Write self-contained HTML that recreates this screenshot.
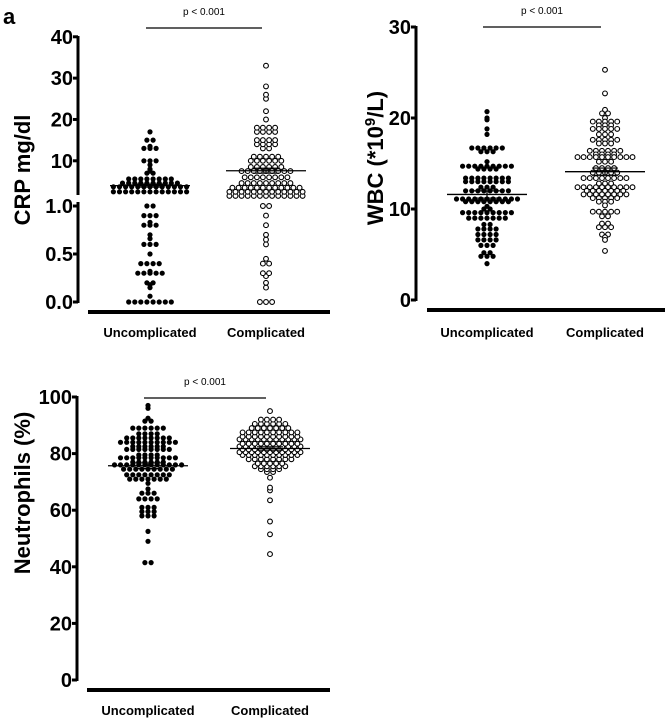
<!DOCTYPE html>
<html><head><meta charset="utf-8"><style>
html,body{margin:0;padding:0;background:#fff;}
svg{display:block;font-family:"Liberation Sans",Arial,sans-serif;}
</style></head><body>
<svg id="chart" width="667" height="720" viewBox="0 0 667 720">
<text x="3" y="24" font-size="22" font-weight="bold">a</text>
</svg>
<script>
// ---- DATA ----
const categories = ["Uncomplicated", "Complicated"];
const crpUncomplicated = [0,0,0,0,0,0,0,0,0.06,0.15,0.18,0.2,0.2,0.3,0.3,0.3,0.3,0.3,0.32,0.4,0.4,0.4,0.4,0.5,0.6,0.6,0.6,0.66,0.7,0.8,0.8,0.8,0.83,0.9,0.9,0.9,1.0,1.0,
 2.5,2.5,2.5,2.5,2.5,2.5,2.5,2.5,2.5,2.5,2.5,2.5,2.5,3.7,3.7,3.7,3.7,3.7,3.7,3.7,3.7,3.7,3.7,3.7,3.7,3.7,4.6,4.6,4.6,4.6,4.6,4.6,4.6,4.6,4.6,4.6,5.6,5.6,5.6,5.6,5.6,5.6,5.6,5.6,
 7,7,7.5,8,9,10,10,10,13,13,13,13.5,15,15,17];
const crpComplicated = [0,0,0,0.15,0.2,0.27,0.3,0.3,0.4,0.4,0.45,0.6,0.65,0.7,0.8,0.9,1.0,1.0,
 1.5,1.5,1.5,1.5,1.5,1.5,1.5,1.5,1.5,1.5,1.5,1.5,1.5,2.5,2.5,2.5,2.5,2.5,2.5,2.5,2.5,2.5,2.5,2.5,2.5,2.5,3.5,3.5,3.5,3.5,3.5,3.5,3.5,3.5,3.5,3.5,3.5,3.5,
 4.6,4.6,4.6,4.6,4.6,4.6,4.6,4.6,4.6,6,6,6,6,6,6,6,6,7.5,7.5,7.5,7.5,7.5,7.5,7.5,7.5,7.5,8.5,8.5,8.5,8.5,8.5,8.5,10,10,10,10,10,10,11,11,11,11,11,
 13,13,14,14,14,14,15,15,15,15,17,17,17,17,18,18,18,18,20,22,25,26,28,33];
const wbcUncomplicated = [20.7,20,19.8,18.8,18.2,16.7,16.7,16.7,16.7,16.7,16.7,16.3,16.3,16.3,15.2,14.7,14.7,14.7,14.7,14.7,14.7,14.7,14.7,14.7,14.4,14.4,14.4,14.4,
 13.4,13.4,13.4,13.4,13.4,13.4,13.4,13.4,13,13,13,13,13,13,13,13,12.4,12.4,12.4,12,12,12,12,12,12,12,12,11.1,11.1,11.1,11.1,11.1,11.1,11.1,11.1,11.1,11.1,11.1,
 10.8,10.8,10.8,10.8,10.8,10.8,10.8,10.8,10.3,10,10,9.6,9.6,9.6,9.6,9.6,9.6,9.6,9.6,9.6,9,9,9,9,9,9,9,8.3,8.3,7.8,7.8,7.8,7.8,7.2,7.2,7.2,7.2,6.6,6.6,6.6,6.6,6,6,6,5.2,5.2,4.8,4.8,4.8,4];
const wbcComplicated = [25.3,22.7,20.9,20.5,20.5,20,19.6,19.6,19.6,19.6,19.6,19.2,19.2,19.2,18.8,18.8,18.8,18.8,18.8,18.2,18.2,18.2,17.6,17.6,17.6,17.6,17.6,17.2,17.2,17.2,
 16.4,16.4,16.4,16.4,16.4,16.4,16,16,16,16,15.7,15.7,15.7,15.7,15.7,15.7,15.7,15.7,15.7,15.7,15.2,15.2,15.2,14.5,14.5,14.5,14.5,14,14,14,14,14,
 13.4,13.4,13.4,13.4,13.4,13.4,13.4,13.4,12.8,12.8,12.8,12.4,12.4,12.4,12.4,12.4,12.4,12.4,12.4,12.4,12.4,12,12,12,12,12,12,12,11.6,11.6,11.6,11.6,11.6,11.6,11.6,11.6,
 11.2,11.2,11.2,11.2,11.2,10.8,10.8,10.8,10.4,9.7,9.7,9.7,9.7,9.7,9.2,9.2,8.4,8.4,8,8,8,7.2,7.2,6.9,6.6,5.4];
const neuUncomplicated = [41.5,41.5,49,52.5,58,58,58,59.5,59.5,59.5,61,61,61,64,64,64,64,66,66,66,67.5,69.5,71,71,71,71,71,71,71,72.5,72.5,72.5,72.5,72.5,72.5,72.5,72.5,
 74.5,74.5,74.5,74.5,74.5,74.5,74.5,74.5,74.5,76,76,76,76,76,76,76,76,76,76,76,76,77,77,77,77,77,77,78.5,78.5,78.5,78.5,78.5,78.5,78.5,78.5,78.5,78.5,79.5,79.5,79.5,79.5,
 81.5,81.5,81.5,81.5,81.5,81.5,81.5,81.5,82.5,82.5,82.5,82.5,82.5,82.5,84,84,84,84,84,84,84,84,84,84,85.5,85.5,85.5,85.5,85.5,85.5,85.5,85.5,87,87,87,87,89,89,89,89,89,89,91.5,91.5,92.5,96,97];
const neuComplicated = [44.5,51.5,56,63.5,67,68,71.5,73.5,73.5,74.5,74.5,74.5,74.5,75.5,75.5,75.5,75.5,75.5,75.5,76.5,76.5,76.5,76.5,76.5,78,78,78,78,78,78,78,78,
 79.5,79.5,79.5,79.5,79.5,79.5,79.5,79.5,79.5,79.5,80.5,80.5,80.5,80.5,80.5,80.5,80.5,80.5,80.5,80.5,80.5,81.5,81.5,81.5,81.5,81.5,81.5,81.5,81.5,81.5,81.5,
 82.5,82.5,82.5,82.5,82.5,82.5,82.5,82.5,82.5,82.5,82.5,83.5,83.5,83.5,83.5,83.5,83.5,83.5,83.5,83.5,83.5,85,85,85,85,85,85,85,85,85,85,85,
 86,86,86,86,86,86,86,86,86,86,87.5,87.5,87.5,87.5,87.5,87.5,87.5,87.5,87.5,87.5,89,89,89,89,89,89,89,90.5,90.5,90.5,90.5,90.5,90.5,92,92,92,92,95];
const crpTicks = ["40","30","20","10","1.0","0.5","0.0"];
const crpTickValues = [40,30,20,10,1,0.5,0];
const wbcTicks = ["30","20","10","0"];
const wbcTickValues = [30,20,10,0];
const neuTicks = ["100","80","60","40","20","0"];
const neuTickValues = [100,80,60,40,20,0];
const crpSummary = {mean:[4.0,7.6], sem:[0.35,0.6]};
const wbcSummary = {mean:[11.6,14.1], sem:[0.4,0.4]};
const neuSummary = {mean:[75.7,81.8], sem:[1.0,0.6]};
const pText = "p < 0.001";

// ---- DRAWING ----
const svg = document.getElementById('chart');
const NS = 'http://www.w3.org/2000/svg';
function mk(tag, attrs, parent){
  const e = document.createElementNS(NS, tag);
  for (const k in attrs) e.setAttribute(k, attrs[k]);
  (parent||svg).appendChild(e); return e;
}
function panel(cfg){
  const g = mk('g', {});
  
  
  const ax = cfg.axisX;
  cfg.axisSegs.forEach(s=>{
    const l = mk('line',{x1:ax,x2:ax,y1:s[0],y2:s[1],stroke:'#000','stroke-width':3},g);
    
    
  });
  cfg.tickValues.forEach((v,i)=>{
    const y = cfg.scale(v);
    const t = mk('line',{x1:ax-5,x2:ax,y1:y,y2:y,stroke:'#000','stroke-width':3},g);
    
    
    const tx = mk('text',{x:ax-5,y:y+7,'text-anchor':'end','font-size':20,'font-weight':'bold'},g);
    tx.textContent = cfg.ticks[i];
    
    
  });
  const xl = mk('line',{x1:cfg.xAxis[0],x2:cfg.xAxis[1],y1:cfg.xAxisY,y2:cfg.xAxisY,stroke:'#000','stroke-width':4},g);
  
  
  categories.forEach((c,i)=>{
    const t = mk('text',{x:cfg.centers[i],y:cfg.labelY,'text-anchor':'middle','font-size':13,'font-weight':'bold'},g);
    t.textContent = c;
    
    
  });
  const tt = mk('text',{x:0,y:0,'text-anchor':'middle','font-size':22,'font-weight':'bold',transform:`translate(${cfg.titlePos[0]},${cfg.titlePos[1]}) rotate(-90)`},g);
  tt.innerHTML = cfg.title;
  
  
  const pl = mk('line',{x1:cfg.centers[0]-4,x2:cfg.centers[1]-4,y1:cfg.pY,y2:cfg.pY,stroke:'#000','stroke-width':1.3},g);
  
  
  const pt = mk('text',{x:(cfg.centers[0]+cfg.centers[1])/2-4,y:cfg.pY-13,'text-anchor':'middle','font-size':10},g);
  pt.textContent = pText;
  
  
  cfg.series.forEach((vals,gi)=>{
    const bins = {};
    vals.forEach(v=>{
      const y = cfg.scale(v);
      const b = y.toFixed(1);
      (bins[b]=bins[b]||[]).push(y);
    });
    for (const b in bins){
      const arr = bins[b]; const n = arr.length;
      arr.forEach((y,i)=>{
        const x = cfg.centers[gi] + (i-(n-1)/2)*6.1;
        const c = mk('circle',{cx:x.toFixed(1),cy:y.toFixed(1),r:gi===0?2.6:2.4,
          fill:gi===0?'#000':'#fff',stroke:'#000','stroke-width':gi===0?0:1.1},g);
        
        
      });
    }
    const m = cfg.summary.mean[gi], s = cfg.summary.sem[gi];
    const my = cfg.scale(m);
    const ml = mk('line',{x1:cfg.centers[gi]-40,x2:cfg.centers[gi]+40,y1:my,y2:my,stroke:'#000','stroke-width':1.3},g);
    
    
    [m-s,m+s].forEach(sv=>{
      const sy = cfg.scale(sv);
      const sl = mk('line',{x1:cfg.centers[gi]-13,x2:cfg.centers[gi]+13,y1:sy,y2:sy,stroke:'#000','stroke-width':1.2},g);
      
      
    });
    const vl = mk('line',{x1:cfg.centers[gi],x2:cfg.centers[gi],y1:cfg.scale(m-s),y2:cfg.scale(m+s),stroke:'#000','stroke-width':1.2},g);
    
    
  });
}
function crpScale(v){ return v<=1 ? 302-96*v : 198-(v-1)*(161-37)/30; }
panel({name:'crp-panel', axisX:78, axisSegs:[[36,195],[202,303]], scale:crpScale,
  ticks:crpTicks, tickValues:crpTickValues, xAxis:[88,330], xAxisY:312, centers:[150,266], labelY:337,
  title:'CRP mg/dl', titlePos:[30,170], pY:28, series:[crpUncomplicated,crpComplicated], summary:crpSummary});
panel({name:'wbc-panel', axisX:416, axisSegs:[[26,301]], scale:v=>300-v*(300-27)/30,
  ticks:wbcTicks, tickValues:wbcTickValues, xAxis:[427,665], xAxisY:310, centers:[487,605], labelY:337,
  title:'WBC (*10<tspan baseline-shift="super" font-size="15">9</tspan>/L)', titlePos:[383,158], pY:27, series:[wbcUncomplicated,wbcComplicated], summary:wbcSummary});
panel({name:'neutrophils-panel', axisX:77, axisSegs:[[396,681]], scale:v=>680-v*(680-397)/100,
  ticks:neuTicks, tickValues:neuTickValues, xAxis:[87,330], xAxisY:690, centers:[148,270], labelY:715,
  title:'Neutrophils (%)', titlePos:[30,493], pY:398, series:[neuUncomplicated,neuComplicated], summary:neuSummary});
</script>
</body></html>
